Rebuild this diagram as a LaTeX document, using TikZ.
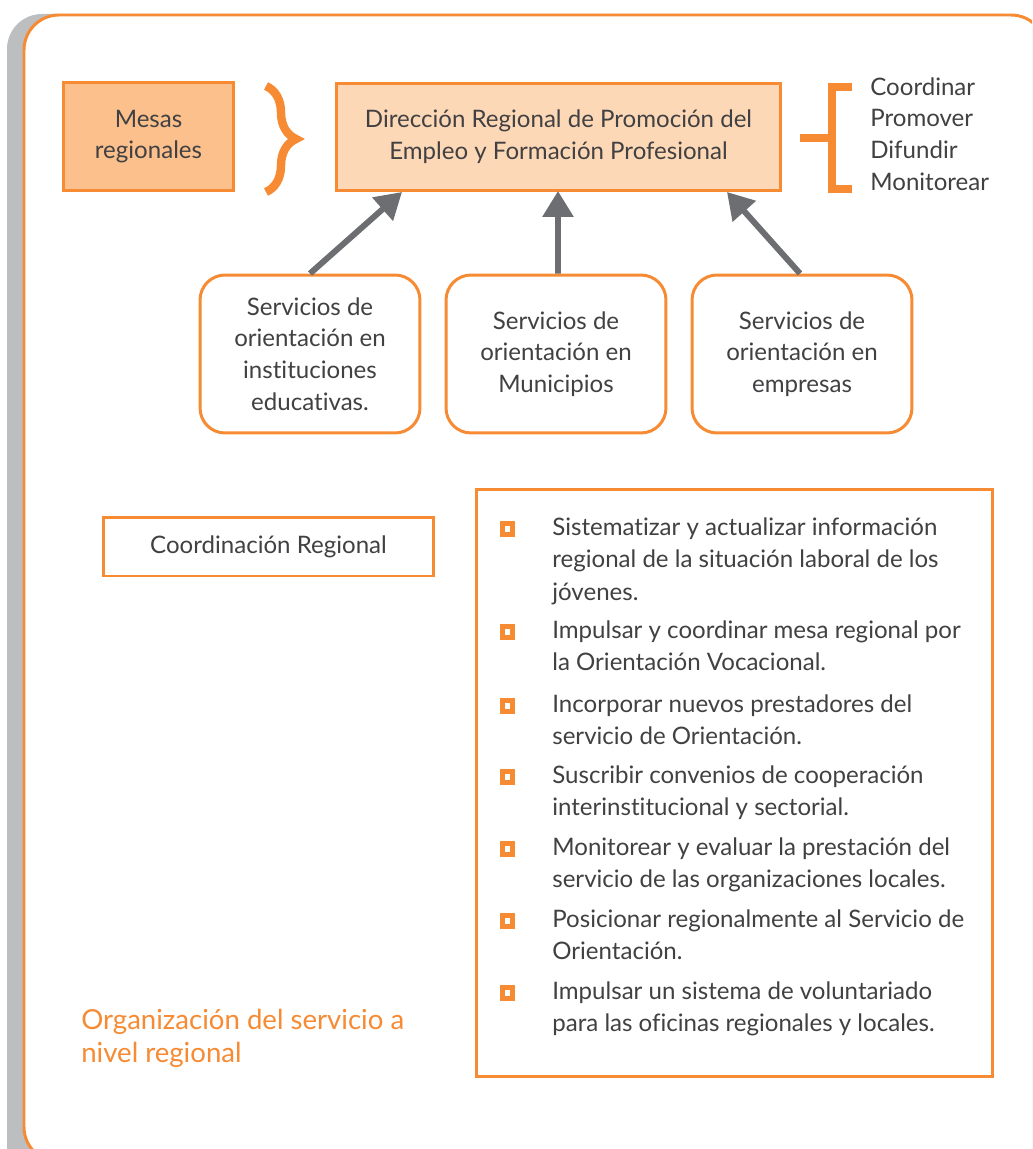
\documentclass[tikz,border=0pt]{standalone}
\usepackage{fontspec}
\setmainfont{Lato}[Ligatures={NoCommon,NoRare,NoContextual}]
\usetikzlibrary{decorations.pathreplacing,arrows.meta}

\definecolor{naranja}{HTML}{F68B33}
\definecolor{durazno}{HTML}{FBC08C}
\definecolor{crema}{HTML}{FDD8B6}
\definecolor{gris}{HTML}{BCBEC0}
\definecolor{flecha}{HTML}{6D6E71}
\definecolor{texto}{HTML}{414042}

\tikzset{
  caja/.style={draw=naranja,line width=1.7pt,text=texto,align=center,
    font=\fontsize{13.7}{18}\selectfont},
  servicio/.style={caja,fill=white,rounded corners=0.5cm,minimum width=4.4cm,minimum height=3.16cm},
  flechagris/.style={draw=flecha,line width=3.4pt,-{Triangle[length=0.52cm,width=0.6cm]}},
  vineta/.style={draw=naranja,fill=white,line width=2.6pt,inner sep=0pt,minimum size=0.21cm},
  punto/.style={anchor=north west,inner sep=0pt,align=left,text=texto,
    font=\fontsize{13.7}{18.5}\selectfont}
}

\begin{document}
\begin{tikzpicture}[x=0.02cm,y=-0.02cm]
\useasboundingbox (0,0) rectangle (1032,1149);
\clip (0,0) rectangle (1032,1149);
% marco
\fill[gris,rounded corners=0.7cm] (7,14) rectangle (1040,1180);
\draw[naranja,line width=1.7pt,fill=white,rounded corners=0.7cm] (24,15) rectangle (1046,1162);

% fila superior
\node[caja,fill=durazno,minimum width=3.42cm,minimum height=2.18cm] (mesas) at (148.5,136.5) {Mesas\\regionales};
\draw[naranja,line width=4.8pt,decorate,decoration={brace,amplitude=0.6cm,aspect=0.5}] (266,86) -- (266,192);
\node[caja,fill=crema,minimum width=8.9cm,minimum height=2.16cm] (dir) at (558.5,137) {Dirección Regional de Promoción del\\Empleo y Formación Profesional};
\draw[naranja,line width=4.5pt] (852,87) -- (832,87) -- (832,189) -- (852,189);
\draw[naranja,line width=4.5pt] (800,138) -- (832,138);
\node[anchor=west,align=left,text=texto,inner sep=0pt,font=\fontsize{13.7}{18}\selectfont] (verbos) at (870,134) {Coordinar\\Promover\\Difundir\\Monitorear};

% servicios
\node[servicio] (s1) at (310,354) {Servicios de\\orientación en\\instituciones\\educativas.};
\node[servicio] (s2) at (556,354) {Servicios de\\orientación en\\Municipios};
\node[servicio] (s3) at (802,354) {Servicios de\\orientación en\\empresas};
\coordinate (d1) at (402,192);
\coordinate (d2) at (558,191);
\coordinate (d3) at (727,192);
\draw[flechagris] (s1.north) -- (d1);
\draw[flechagris] ([xshift=0.04cm]s2.north) -- (d2);
\draw[flechagris] ([xshift=-0.04cm]s3.north) -- (d3);

% coordinacion
\node[caja,fill=white,minimum width=6.62cm,minimum height=1.18cm] (coord) at (268.5,546.5) {Coordinación Regional};
\node[draw=naranja,line width=1.7pt,minimum width=10.34cm,minimum height=11.76cm] (lista) at (734.5,783) {};
\foreach \y/\t in {517/{Sistematizar y actualizar información\\regional de la situación laboral de los\\jóvenes.},
  620/{Impulsar y coordinar mesa regional por\\la Orientación Vocacional.},
  694/{Incorporar nuevos prestadores del\\servicio de Orientación.},
  765/{Suscribir convenios de cooperación\\interinstitucional y sectorial.},
  837/{Monitorear y evaluar la prestación del\\servicio de las organizaciones locales.},
  909/{Posicionar regionalmente al Servicio de\\Orientación.},
  981/{Impulsar un sistema de voluntariado\\para las oficinas regionales y locales.}}
{
  \node[vineta] at (507.5,\y+12) {};
  \node[punto] at (552,\y) {\t};
}

\node[anchor=north west,align=left,inner sep=0pt,text=naranja,font=\fontsize{15.7}{18.8}\selectfont] (titulo) at (81,1009) {Organización del servicio a\\nivel regional};
\end{tikzpicture}
\end{document}
